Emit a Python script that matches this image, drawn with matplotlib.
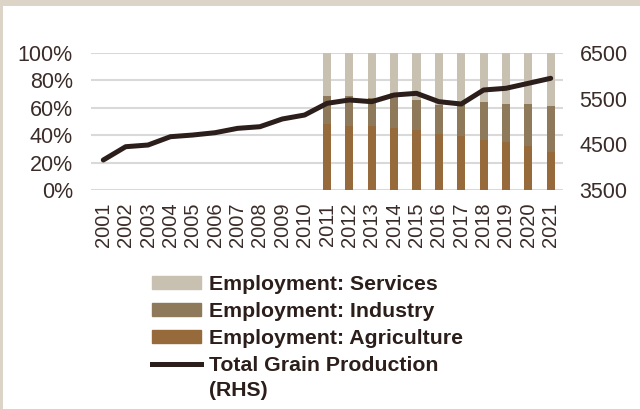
import numpy as np
import matplotlib
matplotlib.use("Agg")
import matplotlib.pyplot as plt
from matplotlib.patches import Rectangle, Patch
from matplotlib.lines import Line2D

plt.rcParams['font.family'] = ['Liberation Sans', 'DejaVu Sans']

years = list(range(2001, 2022))
grain = [4157, 4448, 4485, 4667, 4704, 4755, 4850, 4886, 5055, 5142,
         5398, 5471, 5434, 5580, 5617, 5434, 5383, 5690, 5727, 5836, 5946]

emp_years = list(range(2011, 2022))
agriculture = [48.2, 46.7, 46.7, 45.3, 43.8, 40.9, 39.4, 36.5, 35.0, 32.1, 27.7]
industry = [20.4, 21.9, 20.2, 25.3, 21.9, 21.1, 23.1, 27.7, 27.8, 30.7, 33.6]
services = [100 - a - i for a, i in zip(agriculture, industry)]

c_serv = '#C8C0B0'
c_ind = '#8E7A5B'
c_agr = '#966A3B'
c_line = '#2B1E1B'
c_text = '#3A2C28'

fig = plt.figure(figsize=(6.4, 4.09), dpi=100)
fig.patch.set_facecolor('#DCD4C7')
fig.patches.append(Rectangle((3 / 640, 0), 1, 1 - 6 / 409, transform=fig.transFigure,
                             facecolor='white', edgecolor='none', zorder=-5))

ax = fig.add_axes([91 / 640, 1 - 190 / 409, (563 - 91) / 640, (190 - 53) / 409])
ax.set_facecolor('none')
ax2 = ax.twinx()

x_all = np.arange(len(years))
x_emp = np.array([years.index(y) for y in emp_years])
w = 0.36
ax.bar(x_emp, agriculture, w, color=c_agr, zorder=2)
ax.bar(x_emp, industry, w, bottom=agriculture, color=c_ind, zorder=2)
ax.bar(x_emp, services, w, bottom=np.add(agriculture, industry), color=c_serv, zorder=2)

ax.set_ylim(0, 100)
ax.set_yticks(range(0, 101, 20))
ax.set_yticklabels([f'{v}%' for v in range(0, 101, 20)])
ax.set_xlim(-0.55, len(years) - 0.45)
ax.set_xticks(x_all)
ax.set_xticklabels([str(y) for y in years], rotation=90)
ax.grid(axis='y', color='#D9D9D9', linewidth=1.5, zorder=0)
ax.set_axisbelow(True)

ax2.plot(x_all, grain, color=c_line, linewidth=3.6, solid_capstyle='round', zorder=5)
ax2.set_ylim(3500, 6500)
ax2.set_yticks(range(3500, 6501, 1000))

for a in (ax, ax2):
    for s in a.spines.values():
        s.set_visible(False)
    a.tick_params(length=0, labelsize=15.5, colors=c_text)
ax.tick_params(axis='x', pad=9, labelsize=14.5)
ax.tick_params(axis='y', pad=13)
ax2.tick_params(axis='y', pad=12)

handles = [Patch(color=c_serv), Patch(color=c_ind), Patch(color=c_agr),
           Line2D([0], [0], color=c_line, linewidth=3.6)]
labels = ['Employment: Services', 'Employment: Industry', 'Employment: Agriculture',
          'Total Grain Production']
leg = fig.legend(handles, labels, loc='upper left', bbox_to_anchor=(152 / 640, 1 - 275 / 409),
                 frameon=False, borderpad=0, borderaxespad=0, handlelength=2.3,
                 handleheight=0.6, handletextpad=0.4, labelspacing=0.38,
                 prop={'weight': 'bold', 'size': 15.3})
for t in leg.get_texts():
    t.set_color(c_line)

# second line of the last legend label sits under its first line
fig.canvas.draw()
bb = leg.get_texts()[3].get_window_extent()
fig.text(bb.x0 / 640, (bb.y0 - 25) / 409, '(RHS)', fontsize=15.3, fontweight='bold',
         color=c_line, ha='left', va='bottom')

fig.savefig('out.png', dpi=100, facecolor=fig.get_facecolor())
